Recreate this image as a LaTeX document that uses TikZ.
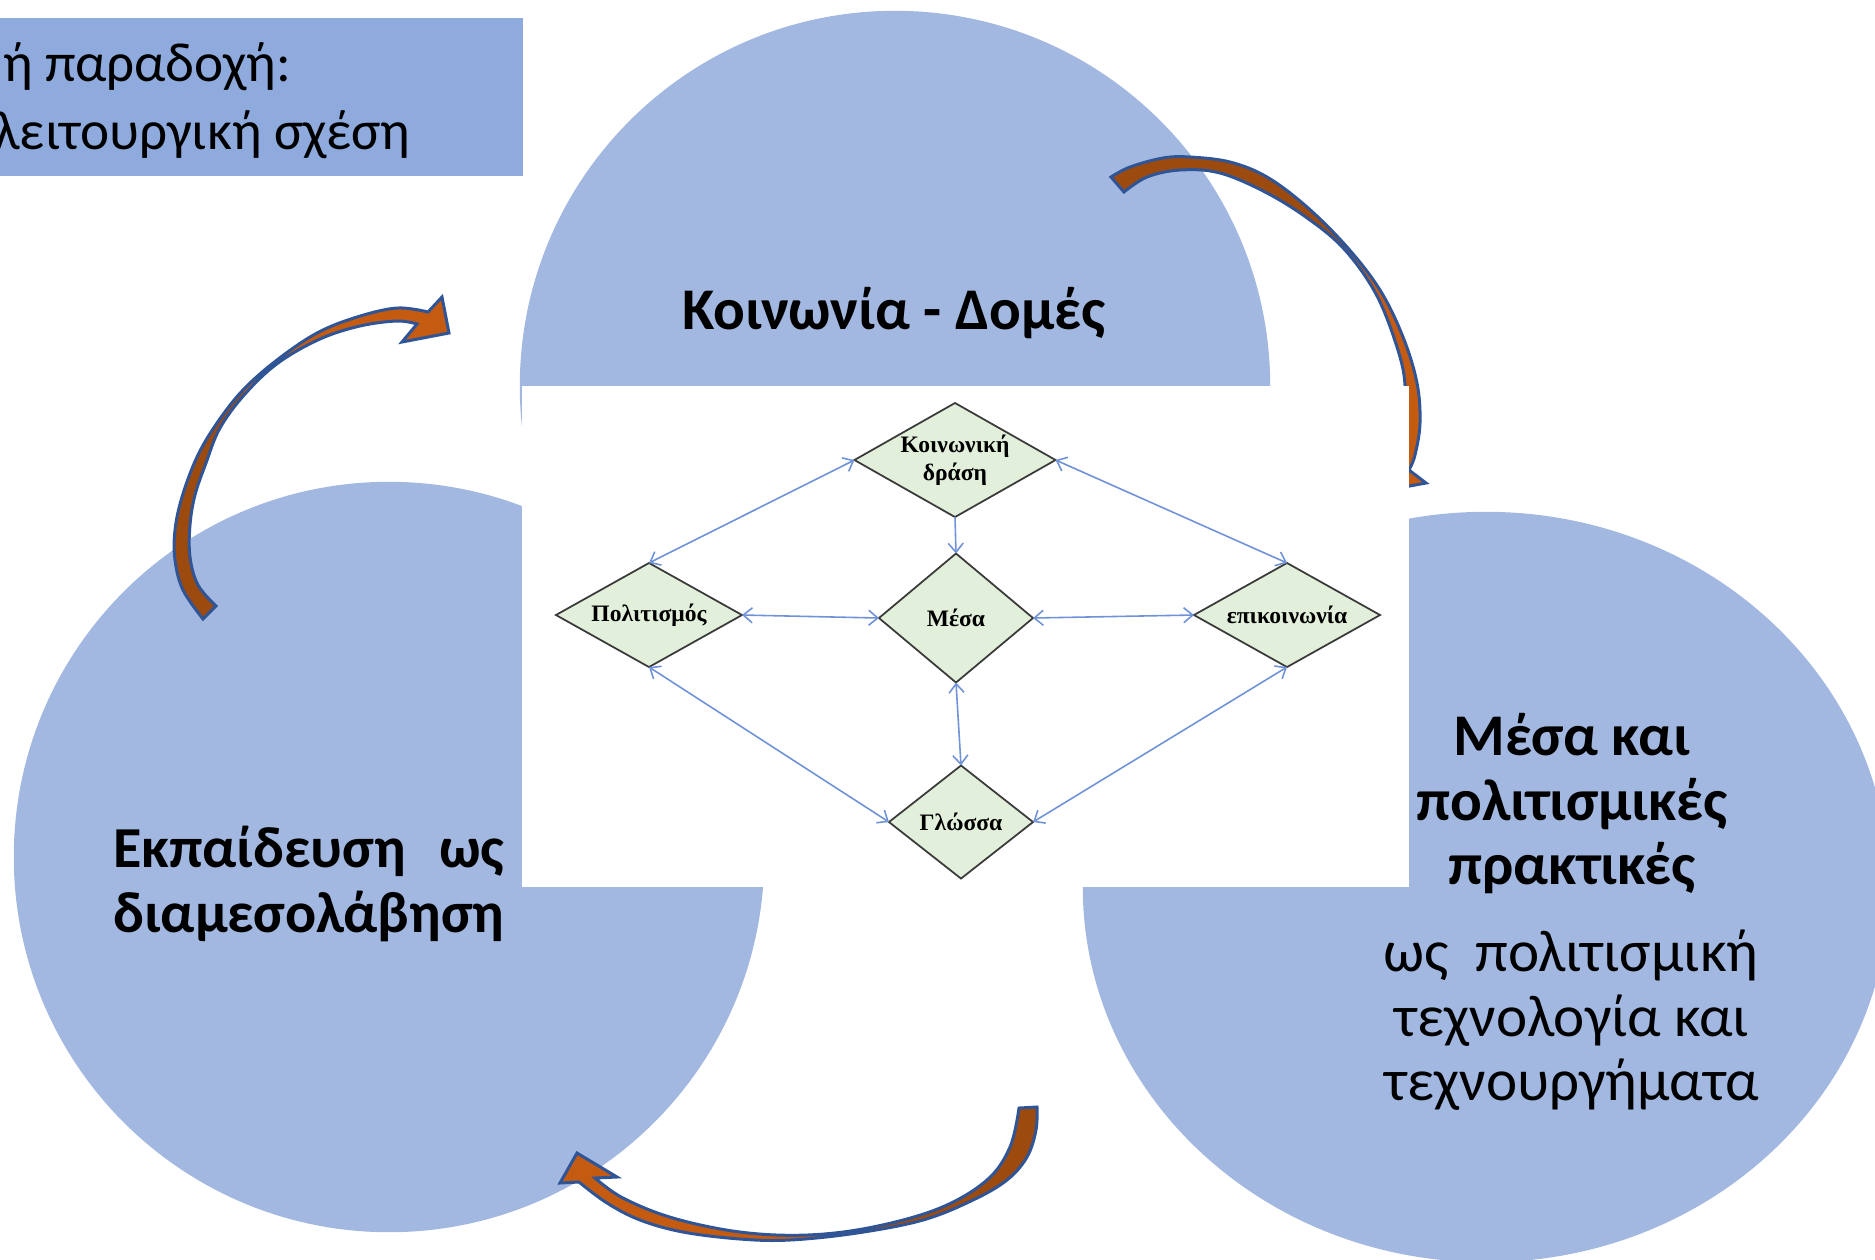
\documentclass[tikz,border=0pt]{standalone}
\usepackage{fontspec}
\setmainfont{Carlito}
\newfontfamily\dfont{Liberation Serif}
\usetikzlibrary{shapes.geometric,arrows.meta}
\definecolor{circc}{HTML}{A2B8E0}
\definecolor{boxc}{HTML}{8FAADC}
\definecolor{orL}{HTML}{C55A11}
\definecolor{orD}{HTML}{9C4A0E}
\definecolor{arrline}{HTML}{2F5597}
\definecolor{connc}{HTML}{6F92D8}
\definecolor{dfill}{HTML}{E2EFDA}
\definecolor{dline}{HTML}{3A3A3A}
\newlength\wlen
\begin{document}
\begin{tikzpicture}[x=0.01cm,y=-0.01cm,
  circ/.style={fill=circc},
  diam/.style={diamond, draw=dline, fill=dfill, line width=0.5pt, inner sep=0pt, outer sep=0pt,
    font=\dfont\bfseries\fontsize{6.7}{8}\selectfont, align=center},
  conn/.style={draw=connc, line width=0.45pt, >={Straight Barb[length=0.9mm,width=1.5mm]}},
  outl/.style={draw=arrline, line width=0.85pt, line join=miter},
  bigb/.style={font=\bfseries\fontsize{16.8}{20}\selectfont, inner sep=0pt},
  bigl/.style={font=\bfseries\fontsize{16.5}{20}\selectfont, inner sep=0pt},
  bigr/.style={font=\fontsize{16.8}{20}\selectfont, inner sep=0pt},
  boxt/.style={font=\fontsize{15.7}{18}\selectfont, inner sep=0pt}
]
\useasboundingbox (0,0) rectangle (1875,1259);
\clip (0,0) rectangle (1875,1259);

% circles
\fill[circ] (895,386) circle[radius=3.75cm];
\fill[circ] (389,857) circle[radius=3.75cm];
\fill[circ] (1486,887) ellipse[x radius=4.03cm, y radius=3.75cm];

% top-right curved arrow (partly hidden by the picture)
\path[save path=\pathB] plot[smooth,tension=0.6] coordinates {(1111,177) (1130,167) (1163,158) (1190,157) (1230,162) (1267,177) (1307,207) (1347,247) (1380,290) (1403,337) (1417,383) (1420,423) (1415,455) (1409,470)}
  -- (1426,483) -- (1388,490) -- (1378,445)
  -- plot[smooth,tension=0.6] coordinates {(1397,460) (1402,425) (1405,385) (1397,347) (1376,294) (1345,250) (1310,220) (1267,193) (1220,173) (1180,170) (1147,177) (1124,192)} -- cycle;
\fill[orL, use path=\pathB];
\fill[orD] plot[smooth,tension=0.6] coordinates {(1111,177) (1130,167) (1163,158) (1190,157) (1230,162) (1267,177) (1307,207) (1347,247)}
  -- plot[smooth,tension=0.6] coordinates {(1345,250) (1310,220) (1267,193) (1220,173) (1180,170) (1147,177) (1124,192)} -- cycle;
\path[outl, use path=\pathB];

% white picture area
\fill[white] (522,386) rectangle (1409,887);

% inner diagram
\node[diam, aspect=1.75, minimum width=2.01cm, minimum height=1.14cm] (kd) at (955,460) {Κοινωνική\\δράση};
\node[diam, aspect=1.79, minimum width=1.86cm, minimum height=1.04cm] (pol) at (649,615) {Πολιτισμός};
\node[diam, aspect=1.2, minimum width=1.54cm, minimum height=1.29cm] (mesa) at (956,618) {Μέσα};
\node[diam, aspect=1.79, minimum width=1.86cm, minimum height=1.04cm] (epi) at (1287,615) {επικοινωνία};
\node[diam, aspect=1.26, minimum width=1.44cm, minimum height=1.13cm] (gl) at (961,822) {Γλώσσα};

\draw[conn, <->] (kd.west) -- (pol.north);
\draw[conn, <->] (kd.east) -- (epi.north);
\draw[conn, ->] (kd.south) -- (mesa.north);
\draw[conn, <->] (pol.east) -- (mesa.west);
\draw[conn, <->] (mesa.east) -- (epi.west);
\draw[conn, <->] (mesa.south) -- (gl.north);
\draw[conn, <->] (pol.south) -- (gl.west);
\draw[conn, <->] (epi.south) -- (gl.east);

% left curved arrow
\path[save path=\pathA] plot[smooth,tension=0.6] coordinates {(203,619) (183,590) (175,560) (175,530) (182,497) (197,457) (217,423) (243,390) (277,360) (317,333) (357,317) (397,308) (428,312)}
  -- (442,297) -- (449,333) -- (402,342)
  -- plot[smooth,tension=0.6] coordinates {(417,324) (397,321) (360,326) (320,339) (278,363) (245,394) (220,428) (206,463) (195,495) (190,525) (190,557) (198,585) (216,606)} -- cycle;
\fill[orL, use path=\pathA];
\fill[orD] plot[smooth,tension=0.6] coordinates {(203,619) (183,590) (175,560) (175,530) (182,497) (197,457) (217,423) (243,390)}
  -- plot[smooth,tension=0.6] coordinates {(245,394) (220,428) (206,463) (195,495) (190,525) (190,557) (198,585) (216,606)} -- cycle;
\path[outl, use path=\pathA];

% bottom curved arrow
\path[save path=\pathC] plot[smooth,tension=0.6] coordinates {(1037,1107) (1036,1130) (1027,1157) (1007,1180) (973,1200) (923,1220) (857,1233) (790,1240) (740,1239) (683,1232) (640,1220) (607,1203) (579,1182)}
  -- (560,1183) -- (577,1153) -- (617,1177)
  -- plot[smooth,tension=0.6] coordinates {(595,1178) (623,1198) (673,1218) (740,1232) (807,1235) (873,1227) (940,1208) (987,1180) (1010,1147) (1019,1108)} -- cycle;
\fill[orL, use path=\pathC];
\fill[orD] plot[smooth,tension=0.6] coordinates {(1037,1107) (1036,1130) (1027,1157) (1007,1180) (973,1200) (923,1220) (857,1233)}
  -- plot[smooth,tension=0.6] coordinates {(873,1227) (940,1208) (987,1180) (1010,1147) (1019,1108)} -- cycle;
\path[outl, use path=\pathC];

% top-left box
\fill[boxc] (0,18) rectangle (523,176);
\node[boxt, anchor=base east] (b1) at (292,81) {ή παραδοχή:};
\node[boxt, anchor=base east] (b2) at (411,149) {λειτουργική σχέση};

% circle texts
\node[bigb, anchor=base] (t1) at (894,329) {Κοινωνία - Δομές};

\node[bigl, anchor=base east] (l1) at (505,867) {\settowidth{\wlen}{διαμεσολάβηση}\makebox[\wlen][s]{Εκπαίδευση\hfill ως}};
\node[bigl, anchor=base east] (l2) at (505,932) {διαμεσολάβηση};

\node[bigb, anchor=base] (r1) at (1572,755) {Μέσα και};
\node[bigb, anchor=base] (r2) at (1572,820) {πολιτισμικές};
\node[bigb, anchor=base] (r3) at (1572,884) {πρακτικές};
\node[bigr, anchor=base] (r4) at (1571,971) {ως\ \ πολιτισμική};
\node[bigr, anchor=base] (r5) at (1572,1036) {τεχνολογία και};
\node[bigr, anchor=base] (r6) at (1572,1100) {τεχνουργήματα};
\end{tikzpicture}
\end{document}
